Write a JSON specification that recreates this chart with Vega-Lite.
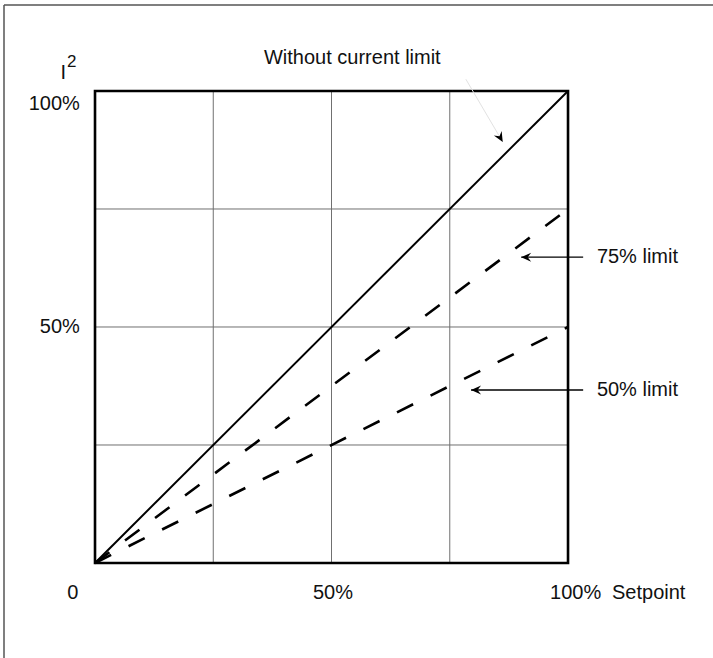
{
  "$schema": "https://vega.github.io/schema/vega-lite/v6.json",
  "width": 709,
  "height": 653,
  "autosize": {"type": "none"},
  "padding": {"left": 4, "top": 5, "right": 0, "bottom": 0},
  "background": "white",
  "config": {"view": {"stroke": null}},
  "datasets": {
    "curves": [
      {"series": "Without current limit", "setpoint": 0, "i2": 0},
      {"series": "Without current limit", "setpoint": 100, "i2": 100},
      {"series": "75% limit", "setpoint": 0, "i2": 0},
      {"series": "75% limit", "setpoint": 100, "i2": 75},
      {"series": "50% limit", "setpoint": 0, "i2": 0},
      {"series": "50% limit", "setpoint": 100, "i2": 50}
    ],
    "grid": [{"v": 25}, {"v": 50}, {"v": 75}],
    "frame": [{"x0": 0, "x1": 100, "y0": 0, "y1": 100}],
    "outer": [{"left": -19.24, "right": 130.65, "top": 118.22, "bottom": -20.13}],
    "pointers": [
      {"label": "75% limit", "from": 103.2, "to": 90.1, "y": 64.8},
      {"label": "50% limit", "from": 103.2, "to": 79.5, "y": 36.65}
    ],
    "titlePointer": [{"x0": 78.4, "y0": 102.5, "x1": 86.2, "y1": 89.2}],
    "texts": [
      {"role": "center", "text": "Without current limit", "x": 54.4, "y": 107.0},
      {"role": "center", "text": "0", "x": -4.7, "y": -6.4},
      {"role": "center", "text": "50%", "x": 50.3, "y": -6.4},
      {"role": "center", "text": "100%", "x": 101.6, "y": -6.4},
      {"role": "right", "text": "100%", "x": -3.2, "y": 97.3},
      {"role": "right", "text": "50%", "x": -3.2, "y": 50.0},
      {"role": "left", "text": "Setpoint", "x": 109.3, "y": -6.4},
      {"role": "left", "text": "75% limit", "x": 106.1, "y": 64.8},
      {"role": "left", "text": "50% limit", "x": 106.1, "y": 36.65}
    ],
    "yname": [{"base": "I", "sup": "2", "x": -7.3, "y": 102.6, "xs": -5.9, "ys": 105.0}]
  },
  "layer": [
    {
      "data": {"name": "outer"},
      "mark": {"type": "rule", "color": "#555555", "strokeWidth": 1.5},
      "encoding": {
        "x": {"field": "left", "type": "quantitative", "scale": {"domain": [-19.24, 130.65], "nice": false, "zero": false}, "axis": null},
        "x2": {"field": "right"},
        "y": {"field": "top", "type": "quantitative", "scale": {"domain": [-20.13, 118.22], "nice": false, "zero": false}, "axis": null}
      }
    },
    {
      "data": {"name": "outer"},
      "mark": {"type": "rule", "color": "#555555", "strokeWidth": 1.5},
      "encoding": {
        "x": {"field": "left", "type": "quantitative", "scale": {"domain": [-19.24, 130.65], "nice": false, "zero": false}, "axis": null},
        "y": {"field": "top", "type": "quantitative", "scale": {"domain": [-20.13, 118.22], "nice": false, "zero": false}, "axis": null},
        "y2": {"field": "bottom"}
      }
    },
    {
      "data": {"name": "grid"},
      "mark": {"type": "rule", "color": "#707070", "strokeWidth": 1},
      "encoding": {
        "x": {"field": "v", "type": "quantitative", "scale": {"domain": [-19.24, 130.65], "nice": false, "zero": false}, "axis": null},
        "y": {"datum": 0, "type": "quantitative", "scale": {"domain": [-20.13, 118.22], "nice": false, "zero": false}, "axis": null},
        "y2": {"datum": 100}
      }
    },
    {
      "data": {"name": "grid"},
      "mark": {"type": "rule", "color": "#707070", "strokeWidth": 1},
      "encoding": {
        "y": {"field": "v", "type": "quantitative", "scale": {"domain": [-20.13, 118.22], "nice": false, "zero": false}, "axis": null},
        "x": {"datum": 0, "type": "quantitative", "scale": {"domain": [-19.24, 130.65], "nice": false, "zero": false}, "axis": null},
        "x2": {"datum": 100}
      }
    },
    {
      "data": {"name": "frame"},
      "mark": {"type": "rect", "filled": false, "fill": null, "stroke": "black", "strokeWidth": 2.6},
      "encoding": {
        "x": {"field": "x0", "type": "quantitative", "scale": {"domain": [-19.24, 130.65], "nice": false, "zero": false}, "axis": null},
        "x2": {"field": "x1"},
        "y": {"field": "y0", "type": "quantitative", "scale": {"domain": [-20.13, 118.22], "nice": false, "zero": false}, "axis": null},
        "y2": {"field": "y1"}
      }
    },
    {
      "data": {"name": "curves"},
      "transform": [{"filter": "datum.series === 'Without current limit'"}],
      "mark": {"type": "line", "color": "black", "strokeWidth": 2},
      "encoding": {
        "x": {"field": "setpoint", "type": "quantitative", "scale": {"domain": [-19.24, 130.65], "nice": false, "zero": false}, "axis": null},
        "y": {"field": "i2", "type": "quantitative", "scale": {"domain": [-20.13, 118.22], "nice": false, "zero": false}, "axis": null},
        "detail": {"field": "series"}
      }
    },
    {
      "data": {"name": "curves"},
      "transform": [{"filter": "datum.series !== 'Without current limit'"}],
      "mark": {"type": "line", "color": "black", "strokeWidth": 2.6, "strokeDash": [18, 19.5], "strokeCap": "butt"},
      "encoding": {
        "x": {"field": "setpoint", "type": "quantitative", "scale": {"domain": [-19.24, 130.65], "nice": false, "zero": false}, "axis": null},
        "y": {"field": "i2", "type": "quantitative", "scale": {"domain": [-20.13, 118.22], "nice": false, "zero": false}, "axis": null},
        "detail": {"field": "series"}
      }
    },
    {
      "data": {"name": "titlePointer"},
      "mark": {"type": "rule", "color": "#e2e2e2", "strokeWidth": 1},
      "encoding": {
        "x": {"field": "x0", "type": "quantitative", "scale": {"domain": [-19.24, 130.65], "nice": false, "zero": false}, "axis": null},
        "x2": {"field": "x1"},
        "y": {"field": "y0", "type": "quantitative", "scale": {"domain": [-20.13, 118.22], "nice": false, "zero": false}, "axis": null},
        "y2": {"field": "y1"}
      }
    },
    {
      "data": {"name": "titlePointer"},
      "mark": {"type": "point", "shape": "M0,0 L1,-0.45 L0.65,0 L1,0.45 Z", "size": 400, "filled": true, "color": "black", "opacity": 1, "angle": 240},
      "encoding": {
        "x": {"field": "x1", "type": "quantitative", "scale": {"domain": [-19.24, 130.65], "nice": false, "zero": false}, "axis": null},
        "y": {"field": "y1", "type": "quantitative", "scale": {"domain": [-20.13, 118.22], "nice": false, "zero": false}, "axis": null}
      }
    },
    {
      "data": {"name": "pointers"},
      "mark": {"type": "rule", "color": "black", "strokeWidth": 1.3},
      "encoding": {
        "x": {"field": "from", "type": "quantitative", "scale": {"domain": [-19.24, 130.65], "nice": false, "zero": false}, "axis": null},
        "x2": {"field": "to"},
        "y": {"field": "y", "type": "quantitative", "scale": {"domain": [-20.13, 118.22], "nice": false, "zero": false}, "axis": null}
      }
    },
    {
      "data": {"name": "pointers"},
      "mark": {"type": "point", "shape": "M0,0 L1,-0.45 L0.65,0 L1,0.45 Z", "size": 400, "filled": true, "color": "black", "opacity": 1},
      "encoding": {
        "x": {"field": "to", "type": "quantitative", "scale": {"domain": [-19.24, 130.65], "nice": false, "zero": false}, "axis": null},
        "y": {"field": "y", "type": "quantitative", "scale": {"domain": [-20.13, 118.22], "nice": false, "zero": false}, "axis": null}
      }
    },
    {
      "data": {"name": "texts"},
      "transform": [{"filter": "datum.role === 'center'"}],
      "mark": {"type": "text", "font": "Liberation Sans", "fontSize": 20, "color": "#111111", "align": "center", "baseline": "middle"},
      "encoding": {
        "x": {"field": "x", "type": "quantitative", "scale": {"domain": [-19.24, 130.65], "nice": false, "zero": false}, "axis": null},
        "y": {"field": "y", "type": "quantitative", "scale": {"domain": [-20.13, 118.22], "nice": false, "zero": false}, "axis": null},
        "text": {"field": "text"}
      }
    },
    {
      "data": {"name": "texts"},
      "transform": [{"filter": "datum.role === 'right'"}],
      "mark": {"type": "text", "font": "Liberation Sans", "fontSize": 20, "color": "#111111", "align": "right", "baseline": "middle"},
      "encoding": {
        "x": {"field": "x", "type": "quantitative", "scale": {"domain": [-19.24, 130.65], "nice": false, "zero": false}, "axis": null},
        "y": {"field": "y", "type": "quantitative", "scale": {"domain": [-20.13, 118.22], "nice": false, "zero": false}, "axis": null},
        "text": {"field": "text"}
      }
    },
    {
      "data": {"name": "texts"},
      "transform": [{"filter": "datum.role === 'left'"}],
      "mark": {"type": "text", "font": "Liberation Sans", "fontSize": 20, "color": "#111111", "align": "left", "baseline": "middle"},
      "encoding": {
        "x": {"field": "x", "type": "quantitative", "scale": {"domain": [-19.24, 130.65], "nice": false, "zero": false}, "axis": null},
        "y": {"field": "y", "type": "quantitative", "scale": {"domain": [-20.13, 118.22], "nice": false, "zero": false}, "axis": null},
        "text": {"field": "text"}
      }
    },
    {
      "data": {"name": "yname"},
      "mark": {"type": "text", "font": "Liberation Sans", "fontSize": 20, "color": "#111111", "align": "left", "baseline": "alphabetic"},
      "encoding": {
        "x": {"field": "x", "type": "quantitative", "scale": {"domain": [-19.24, 130.65], "nice": false, "zero": false}, "axis": null},
        "y": {"field": "y", "type": "quantitative", "scale": {"domain": [-20.13, 118.22], "nice": false, "zero": false}, "axis": null},
        "text": {"field": "base"}
      }
    },
    {
      "data": {"name": "yname"},
      "mark": {"type": "text", "font": "Liberation Sans", "fontSize": 17, "color": "#111111", "align": "left", "baseline": "alphabetic"},
      "encoding": {
        "x": {"field": "xs", "type": "quantitative", "scale": {"domain": [-19.24, 130.65], "nice": false, "zero": false}, "axis": null},
        "y": {"field": "ys", "type": "quantitative", "scale": {"domain": [-20.13, 118.22], "nice": false, "zero": false}, "axis": null},
        "text": {"field": "sup"}
      }
    }
  ]
}
